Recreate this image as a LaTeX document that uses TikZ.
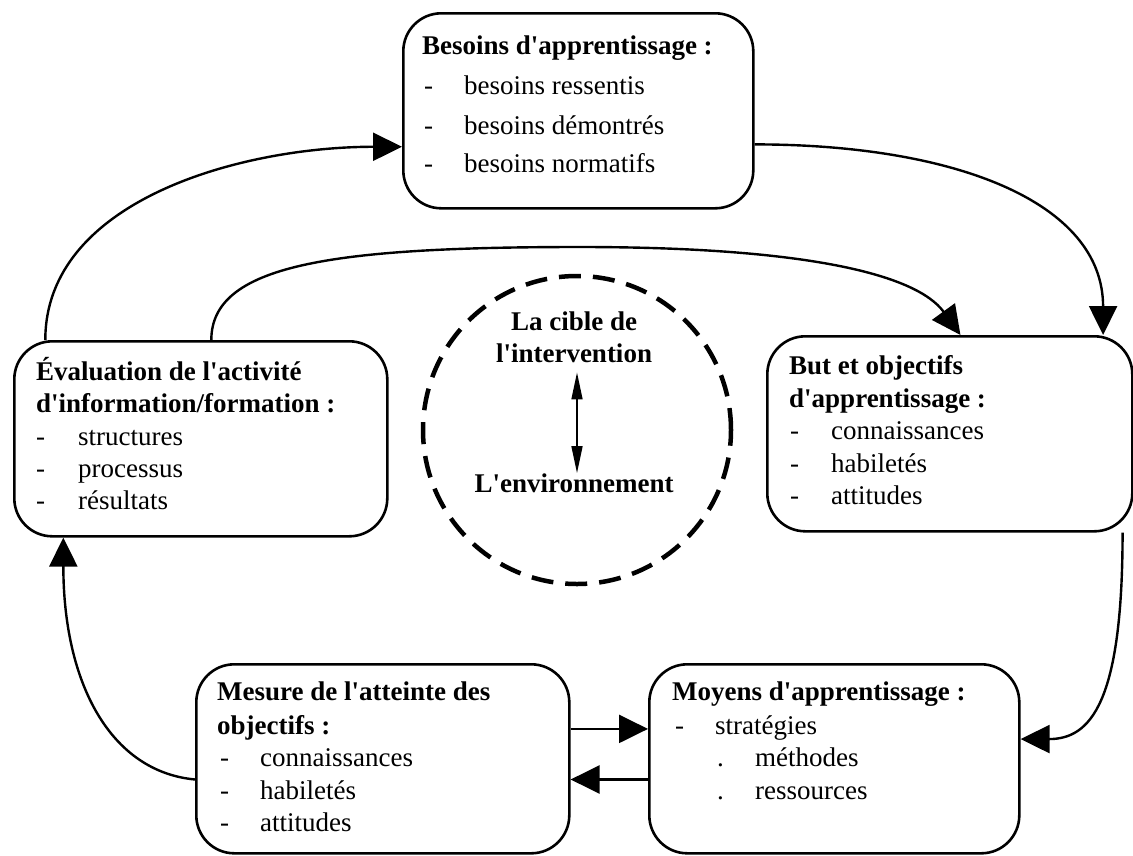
\documentclass[tikz,border=0pt]{standalone}
\usepackage{fontspec}
\setmainfont{Liberation Serif}
\usetikzlibrary{arrows.meta,calc}
\newcommand\ap{\textquotesingle}
\begin{document}
\begin{tikzpicture}[x=1pt,y=-1pt,
  box/.style={draw, line width=2.6pt, rounded corners=38pt, inner sep=0pt, anchor=north west},
  tl/.style={anchor=base west, inner sep=0pt, font=\fontsize{27}{32}\selectfont\bfseries},
  it/.style={anchor=base west, inner sep=0pt, font=\fontsize{27}{32}\selectfont},
  ct/.style={anchor=base, inner sep=0pt, font=\fontsize{27}{32}\selectfont\bfseries},
  conn/.style={line width=2.4pt, -{Triangle[length=29pt,width=28pt]}},
]
\useasboundingbox (0,0) rectangle (1133,855);

% boxes
\node[box, minimum width=350pt, minimum height=195pt] (bes) at (402,12) {};
\node[box, minimum width=373pt, minimum height=195pt] (ev) at (13,340) {};
\node[box, minimum width=365pt, minimum height=195pt] (but) at (766,335) {};
\node[box, minimum width=373pt, minimum height=189pt] (mes) at (195,663) {};
\node[box, minimum width=370pt, minimum height=189pt] (moy) at (648,663) {};
\node[draw, circle, minimum size=308pt, inner sep=0pt, line width=4.5pt, dash pattern=on 22pt off 12pt] (cib) at (577,430) {};

% Besoins
\node[tl] (bes-t) at (422,54) {Besoins d\ap apprentissage :};
\node[it] (bes-d1) at (424,94) {-};
\node[it] (bes-i1) at (464,94) {besoins ressentis};
\node[it] (bes-d2) at (424,134) {-};
\node[it] (bes-i2) at (464,134) {besoins démontrés};
\node[it] (bes-d3) at (424,172) {-};
\node[it] (bes-i3) at (464,172) {besoins normatifs};

% Evaluation
\node[tl] (ev-t1) at (36,380) {Évaluation de l\ap activité};
\node[tl] (ev-t2) at (36,412) {d\ap information/formation :};
\node[it] (ev-d1) at (36,445) {-};
\node[it] (ev-i1) at (78,445) {structures};
\node[it] (ev-d2) at (36,477) {-};
\node[it] (ev-i2) at (78,477) {processus};
\node[it] (ev-d3) at (36,509) {-};
\node[it] (ev-i3) at (78,509) {résultats};

% But
\node[tl] (but-t1) at (789,374) {But et objectifs};
\node[tl] (but-t2) at (789,407) {d\ap apprentissage :};
\node[it] (but-d1) at (790,439) {-};
\node[it] (but-i1) at (831,439) {connaissances};
\node[it] (but-d2) at (790,472) {-};
\node[it] (but-i2) at (831,472) {habiletés};
\node[it] (but-d3) at (790,504) {-};
\node[it] (but-i3) at (831,504) {attitudes};

% Mesure
\node[tl] (mes-t1) at (217,700) {Mesure de l\ap atteinte des};
\node[tl] (mes-t2) at (217,734) {objectifs :};
\node[it] (mes-d1) at (220,766) {-};
\node[it] (mes-i1) at (260,766) {connaissances};
\node[it] (mes-d2) at (220,799) {-};
\node[it] (mes-i2) at (260,799) {habiletés};
\node[it] (mes-d3) at (220,831) {-};
\node[it] (mes-i3) at (260,831) {attitudes};

% Moyens
\node[tl] (moy-t) at (672,700) {Moyens d\ap apprentissage :};
\node[it] (moy-d1) at (675,734) {-};
\node[it] (moy-i1) at (715,734) {stratégies};
\node[it] (moy-d2) at (717,766) {.};
\node[it] (moy-i2) at (755,766) {méthodes};
\node[it] (moy-d3) at (717,799) {.};
\node[it] (moy-i3) at (755,799) {ressources};

% circle texts
\node[ct] (ci1) at (574,330) {La cible de};
\node[ct] (ci2) at (574,362) {l\ap intervention};
\node[ct] (ci3) at (574,492) {L\ap environnement};
\draw[line width=1.6pt, {Triangle[length=27pt,width=11pt]}-{Triangle[length=27pt,width=11pt]}]
  ($(ci2.south -| cib.center)+(0,10)$) -- (ci3.north -| cib.center);

% connectors
\draw[conn] ($(ev.north west)!0.086!(ev.north east)$) .. controls +(0,-140) and +(-160,0) .. ($(bes.south west)!0.318!(bes.north west)$);
\draw[conn] ($(bes.south east)!0.33!(bes.north east)$) .. controls +(200,0) and +(0,-133) .. ($(but.north west)!0.917!(but.north east)$);
\draw[conn] ($(ev.north west)!0.528!(ev.north east)$) .. controls +(0,-75) and +(-250,0) .. (580,247) .. controls +(220,0) and +(-45,-62) .. ($(but.north west)!0.529!(but.north east)$);
\draw[conn] ($(but.south west)!0.97!(but.south east)$) .. controls +(0,170) and +(70,0) .. ($(moy.south east)!0.603!(moy.north east)$);
\draw[conn] ($(mes.south east)!0.656!(mes.north east)$) -- ($(moy.south west)!0.656!(moy.north west)$);
\draw[conn] ($(moy.south west)!0.392!(moy.north west)$) -- ($(mes.south east)!0.392!(mes.north east)$);
\draw[conn] ($(mes.south west)!0.392!(mes.north west)$) .. controls +(-85,-8) and +(0,145) .. ($(ev.south west)!0.134!(ev.south east)$);
\end{tikzpicture}
\end{document}
